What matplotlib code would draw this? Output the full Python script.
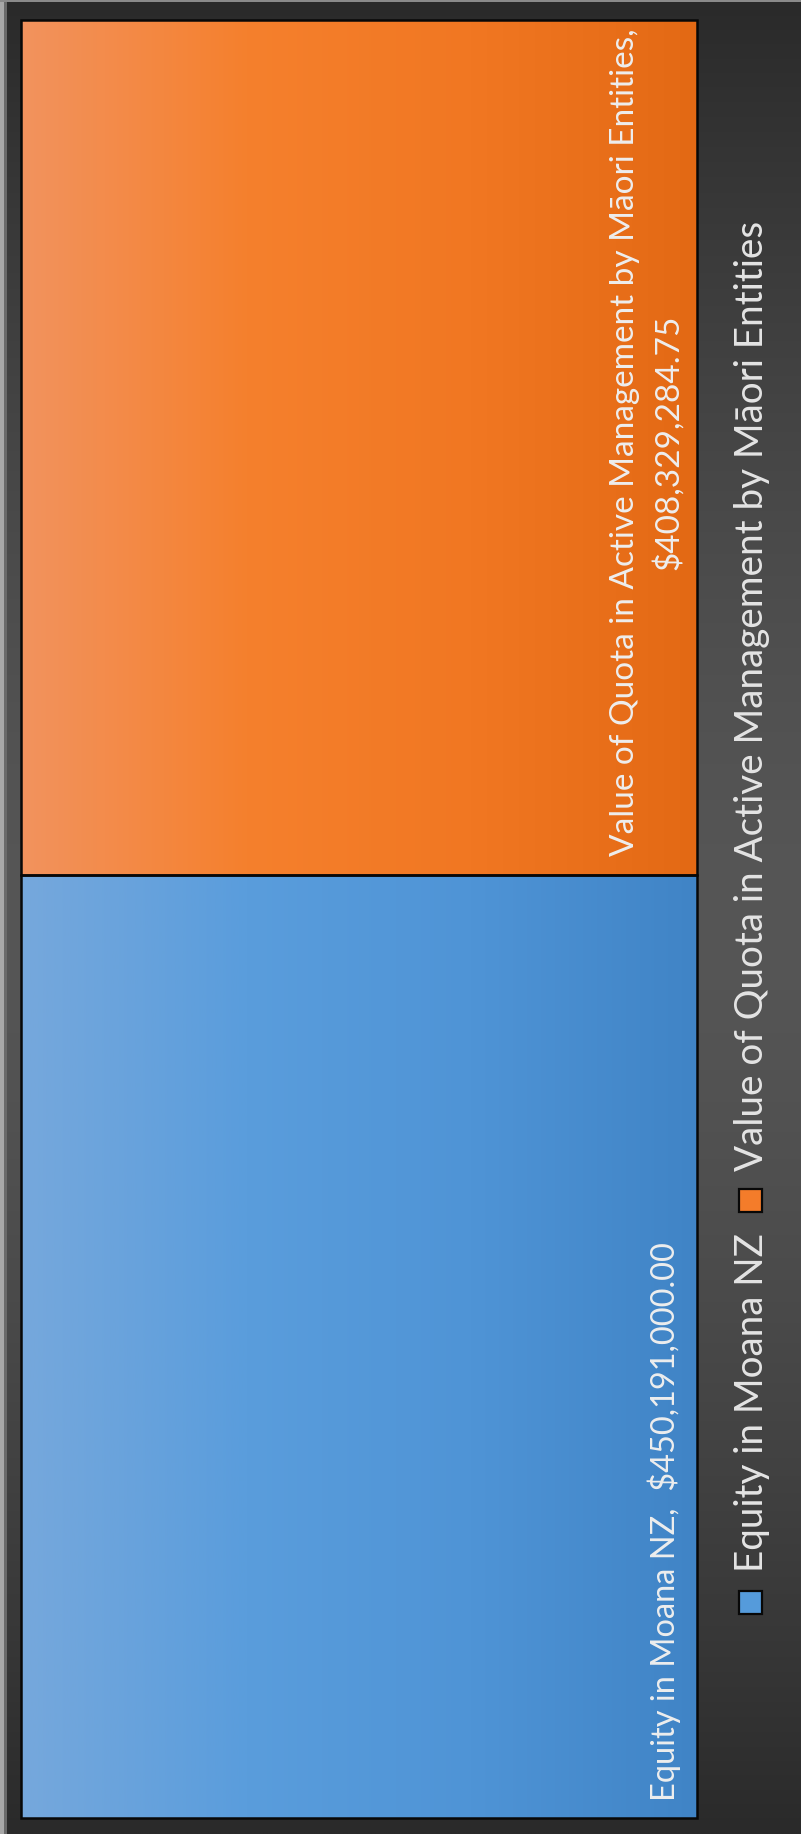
import numpy as np
import matplotlib
matplotlib.use("Agg")
import matplotlib.pyplot as plt
from matplotlib.colors import LinearSegmentedColormap
from matplotlib.patches import Rectangle
from matplotlib.transforms import Affine2D

# ---------------- data ----------------
categories = ["Equity in Moana NZ",
              "Value of Quota in Active Management by Māori Entities"]
values = [450191000.00, 408329284.75]
value_labels = ["$450,191,000.00", "$408,329,284.75"]

# ---------------- style ----------------
grad_colors = [["#76a8dc", "#5a9ddc", "#4f94d6", "#4084c6"],
               ["#f2935e", "#f5802d", "#f17722", "#e36914"]]
legend_colors = ["#559bdb", "#f47c2a"]
FONT = ["Lato", "DejaVu Sans"]
W, H, DPI = 801, 1834, 100

fig = plt.figure(figsize=(W / DPI, H / DPI), dpi=DPI)
fig.patch.set_facecolor("#2b2b2b")
tpx = Affine2D().scale(1 / W, -1 / H).translate(0, 1) + fig.transFigure

# background gradient (dark at top/bottom, lighter in the middle)
bg = fig.add_axes([0, 0, 1, 1], zorder=0)
bg.set_axis_off()
t = np.linspace(0, 1, 400)
d = np.abs(t - 0.5) * 2
lev = (86 - 44 * d ** 1.5) / 255.0
img = np.repeat(lev[:, None], 10, axis=1)
bg.imshow(np.dstack([img] * 3), extent=(0, 1, 0, 1), aspect="auto",
          interpolation="bilinear")
bg.set_xlim(0, 1)
bg.set_ylim(0, 1)
bg.add_patch(Rectangle((0, 0), 4, H, transform=tpx, color="#a8a8a8", lw=0))
bg.add_patch(Rectangle((4, 0), 3, H, transform=tpx, color="#6a6a6a", lw=0))
bg.add_patch(Rectangle((0, 0), W, 2, transform=tpx, color="#8a8a8a", lw=0))

# main axes: one 100% stacked bar (rotated treemap look)
ax = fig.add_axes([21 / W, 1 - 1818 / H, 676 / W, 1798 / H], zorder=1)
ax.set_axis_off()
total = float(np.sum(values))
bottoms = np.concatenate([[0.0], np.cumsum(values)[:-1]])
bars = ax.bar([0] * len(values), values, bottom=bottoms, width=1.0,
              color="none", edgecolor="#080808", linewidth=1.8, zorder=3,
              clip_on=False)
for bar, cols in zip(bars, grad_colors):
    cmap = LinearSegmentedColormap.from_list("g", cols)
    x0, y0 = bar.get_x(), bar.get_y()
    w, h = bar.get_width(), bar.get_height()
    im = ax.imshow(np.linspace(0, 1, 256)[None, :], cmap=cmap,
                   extent=(x0, x0 + w, y0, y0 + h), aspect="auto",
                   zorder=2, interpolation="bilinear")
    im.set_clip_path(bar)
ax.set_xlim(-0.5, 0.5)
ax.set_ylim(0, total)

# data labels
lab_eq = ax.annotate(f"{categories[0]},  {value_labels[0]}",
                     xy=(0.5, bottoms[0]), xytext=(-22, 17),
                     textcoords="offset pixels", rotation=90,
                     rotation_mode="anchor", ha="left", va="baseline",
                     color="#eeeeee", fontsize=22, family=FONT, zorder=5)
top_q = bottoms[1] + values[1]
lab_q1 = ax.annotate(f"{categories[1]},",
                     xy=(0.5, top_q), xytext=(-63, -422),
                     textcoords="offset pixels", rotation=90,
                     rotation_mode="anchor", ha="center", va="baseline",
                     color="#eeeeee", fontsize=22, family=FONT, zorder=5)
lab_q2 = ax.annotate(value_labels[1],
                     xy=(0.5, top_q), xytext=(-19, -422),
                     textcoords="offset pixels", rotation=90,
                     rotation_mode="anchor", ha="center", va="baseline",
                     color="#eeeeee", fontsize=22, family=FONT, zorder=5)

# legend texts (manual, rotated)
leg_texts = []
for cat in categories:
    tx = fig.text(0, 0, cat, transform=tpx, rotation=90,
                  rotation_mode="anchor", ha="left", va="baseline",
                  color="#e4e4e4", fontsize=26, family=FONT, zorder=5)
    leg_texts.append(tx)

renderer = fig.canvas.get_renderer()

def length(txt):
    bb = txt.get_window_extent(renderer)
    return bb.height

# fit font sizes to the reference text lengths
sq_ = lab_q1.get_fontsize() * 826.0 / length(lab_q1)
lab_q1.set_fontsize(sq_)
lab_q2.set_fontsize(sq_)
lab_eq.set_fontsize(lab_eq.get_fontsize() * 556.0 / length(lab_eq))
s2 = leg_texts[1].get_fontsize() * 947.0 / length(leg_texts[1])
for tx in leg_texts:
    tx.set_fontsize(s2)

# legend layout, centred on the axes
sq, g1, g2 = 23, 18, 22
lens = [length(tx) for tx in leg_texts]
tot = sum(sq + g1 + L for L in lens) + g2 * (len(lens) - 1)
center = (20 + 1818) / 2.0 - 2
ypos = center + tot / 2.0
for tx, L, col in zip(leg_texts, lens, legend_colors):
    fig.add_artist(Rectangle((739, ypos - sq), sq, sq, transform=tpx,
                             facecolor=col, edgecolor="#080808", lw=1.6,
                             zorder=5))
    ypos -= sq + g1
    tx.set_position((763, ypos))
    ypos -= L + g2

fig.savefig("out.png", dpi=DPI, facecolor=fig.get_facecolor())
